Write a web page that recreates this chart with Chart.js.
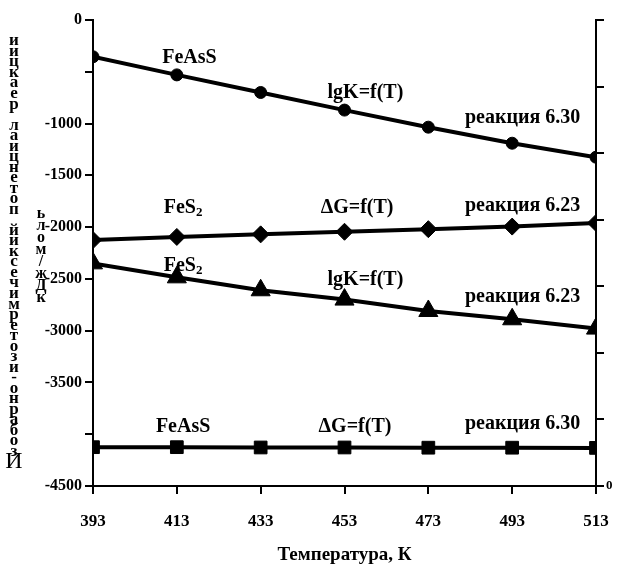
<!DOCTYPE html>
<html>
<head>
<meta charset="utf-8">
<script src="https://cdn.jsdelivr.net/npm/chart.js@4"></script>
<style>
  body { margin: 0; background: #fff; }
  #wrap { width: 617px; height: 567px; position: relative; }
</style>
</head>
<body>
<div id="wrap"><canvas id="myChart"></canvas></div>
<script>
const temperatures = [393, 413, 433, 453, 473, 493, 513];

// lgK and dG curves (left axis units)
const lgkFeAsS = [-355, -530, -700, -870, -1035, -1190, -1325];
const dgFeS2 = [-2125, -2095, -2070, -2045, -2020, -1995, -1960];
const lgkFeS2 = [-2350, -2485, -2610, -2700, -2810, -2890, -2980];
const dgFeAsS = [-4125, -4125, -4128, -4128, -4130, -4130, -4132];

const hiddenLeftTicks = [-500, -4000];
const rightTickLabels = ["0"];

const yTitle = "Изобарно-изотермический потенциал реакции";
const yUnit = "кДж/моль";
const xTitle = "Температура, К";

// curve captions: [text, subscript, T, value]
const captions = [
  ["FeAsS", "", 416, -365],
  ["lgK=f(T)", "", 458, -700],
  ["реакция 6.30", "", 495.5, -940],
  ["FeS", "2", 414.5, -1810],
  ["ΔG=f(T)", "", 456, -1815],
  ["реакция 6.23", "", 495.5, -1790],
  ["FeS", "2", 414.5, -2375],
  ["lgK=f(T)", "", 458, -2510],
  ["реакция 6.23", "", 495.5, -2675],
  ["FeAsS", "", 414.5, -3930],
  ["ΔG=f(T)", "", 455.5, -3930],
  ["реакция 6.30", "", 495.5, -3895],
];

const serif = '"Liberation Serif", "DejaVu Serif", serif';

const toPoints = (arr) => temperatures.map((t, i) => ({ x: t, y: arr[i] }));

const series = (data, style, radius) => ({
  data: toPoints(data),
  yAxisID: "y",
  borderColor: "#000",
  backgroundColor: "#000",
  borderWidth: 4,
  pointStyle: style,
  pointRadius: radius,
  pointBorderWidth: 1,
  tension: 0,
});

const textPlugin = {
  id: "texts",
  afterDraw(chart) {
    const ctx = chart.ctx;
    const x = chart.scales.x;
    const y = chart.scales.y;
    ctx.save();
    ctx.fillStyle = "#000";
    ctx.textBaseline = "middle";

    captions.forEach(([text, sub, t, v]) => {
      ctx.font = `bold 20px ${serif}`;
      const w = ctx.measureText(text).width;
      ctx.font = `bold 13px ${serif}`;
      const ws = sub ? ctx.measureText(sub).width : 0;
      const left = x.getPixelForValue(t) - (w + ws) / 2;
      const py = y.getPixelForValue(v);
      ctx.textAlign = "left";
      ctx.font = `bold 20px ${serif}`;
      ctx.fillText(text, left, py);
      if (sub) {
        ctx.font = `bold 13px ${serif}`;
        ctx.fillText(sub, left + w, py + 5);
      }
    });

    // stacked vertical axis caption, as printed
    ctx.textAlign = "center";
    const chars = Array.from(yTitle).reverse();
    const top = 41, bottom = 462;
    const step = (bottom - top) / (chars.length - 1);
    chars.forEach((c, i) => {
      ctx.font = i === chars.length - 1 ? `24px ${serif}` : `bold 17px ${serif}`;
      ctx.fillText(c, 14, top + i * step);
    });
    const unit = Array.from(yUnit).reverse();
    ctx.font = `bold 16px ${serif}`;
    unit.forEach((c, i) => {
      ctx.fillText(c, 41, 214 + i * 12);
    });
    ctx.restore();
  },
};

new Chart(document.getElementById("myChart"), {
  type: "line",
  data: {
    datasets: [
      series(lgkFeAsS, "circle", 6),
      series(dgFeS2, "rectRot", 8.5),
      series(lgkFeS2, "triangle", 11),
      series(dgFeAsS, "rect", 9),
    ],
  },
  options: {
    responsive: true,
    maintainAspectRatio: false,
    animation: false,
    events: [],
    layout: { padding: { top: 20, left: 0, right: 0, bottom: 0 } },
    plugins: {
      legend: { display: false },
      tooltip: { enabled: false },
    },
    scales: {
      x: {
        type: "linear",
        min: 393,
        max: 513,
        afterFit: (s) => {
          s.height = 81;
          s.paddingLeft = 0;
          s.paddingRight = 0;
        },
        ticks: {
          stepSize: 20,
          color: "#000",
          padding: 17,
          font: { family: serif, size: 17, weight: "bold" },
          callback: (value) => String(value),
        },
        grid: { drawOnChartArea: false, color: "#000", lineWidth: 2, tickLength: 8 },
        border: { display: true, color: "#000", width: 2 },
        title: {
          display: true,
          text: xTitle,
          color: "#000",
          font: { family: serif, size: 19, weight: "bold" },
          padding: { top: 0, bottom: 1 },
        },
      },
      y: {
        type: "linear",
        position: "left",
        min: -4500,
        max: 0,
        afterFit: (s) => { s.width = 93; },
        ticks: {
          stepSize: 500,
          color: "#000",
          padding: 3,
          font: { family: serif, size: 16, weight: "bold" },
          callback: (value) => (hiddenLeftTicks.includes(value) ? "" : String(value)),
        },
        grid: { drawOnChartArea: false, color: "#000", lineWidth: 2, tickLength: 8 },
        border: { display: true, color: "#000", width: 2 },
      },
      y2: {
        type: "linear",
        position: "right",
        min: 0,
        max: 7,
        afterFit: (s) => { s.width = 21; },
        ticks: {
          stepSize: 1,
          color: "#000",
          padding: 2,
          font: { family: serif, size: 13, weight: "bold" },
          callback: (value) => (rightTickLabels.includes(String(value)) ? String(value) : ""),
        },
        grid: { drawOnChartArea: false, color: "#000", lineWidth: 2, tickLength: 8 },
        border: { display: true, color: "#000", width: 2 },
      },
    },
  },
  plugins: [textPlugin],
});
</script>
</body>
</html>
